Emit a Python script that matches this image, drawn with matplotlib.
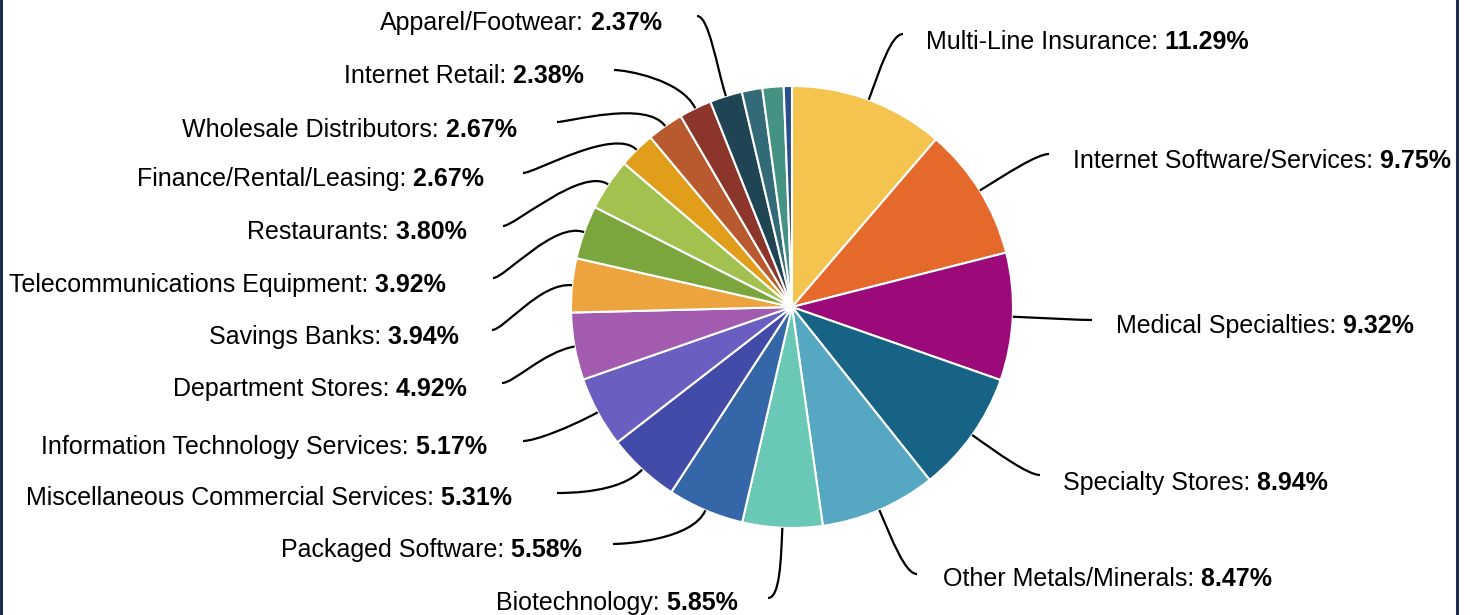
import numpy as np
import matplotlib.pyplot as plt
from matplotlib.path import Path
from matplotlib.patches import PathPatch

plt.rcParams['font.family'] = ['Liberation Sans', 'DejaVu Sans']

# データ（時計回り、上から）
labels = ['Multi-Line Insurance', 'Internet Software/Services', 'Medical Specialties',
          'Specialty Stores', 'Other Metals/Minerals', 'Biotechnology',
          'Packaged Software', 'Miscellaneous Commercial Services',
          'Information Technology Services', 'Department Stores', 'Savings Banks',
          'Telecommunications Equipment', 'Restaurants', 'Finance/Rental/Leasing',
          'Wholesale Distributors', 'Internet Retail', 'Apparel/Footwear',
          None, None, None]
values = [11.29, 9.75, 9.32, 8.94, 8.47, 5.85, 5.58, 5.31, 5.17, 4.92,
          3.94, 3.92, 3.80, 2.67, 2.67, 2.38, 2.37, 1.50, 1.55, 0.60]
colors = ['#f4c44e', '#e5692b', '#9b0a78', '#176385', '#56a8c2', '#6ac8b6',
          '#3566a8', '#434ba8', '#6a5ec0', '#a35bb0', '#eda43e', '#7ba63e',
          '#a3c14e', '#e09e1b', '#b95a2e', '#8c352b', '#1f4555', '#336a78',
          '#439283', '#2b4f8c']

# レイアウト（ピクセル座標、上が0）
W, H = 1470, 615
cx, cy, R = 792, 307, 221
side = ['R', 'R', 'R', 'R', 'R'] + ['L'] * 12
label_pos = [(926, 41), (1073, 160), (1116, 325), (1063, 482), (943, 578),
             (738, 602), (582, 549), (512, 497), (487, 446), (467, 388),
             (459, 336), (446, 284), (467, 231), (484, 178), (517, 129),
             (584, 75), (662, 22)]
line_end = [(903, 34), (1049, 154), (1092, 320), (1040, 475), (917, 574),
            (768, 598), (613, 544), (557, 493), (523, 441), (502, 383),
            (492, 330), (493, 278), (503, 226), (523, 173), (557, 122),
            (614, 70), (697, 16)]

fig = plt.figure(figsize=(14.7, 6.15), dpi=100)
ax = fig.add_axes([0, 0, 1, 1])

wedges, _ = ax.pie(values, colors=colors, startangle=90, counterclock=False,
                   center=(cx, H - cy), radius=R,
                   wedgeprops=dict(edgecolor='white', linewidth=1.5))
ax.set_xlim(0, W)
ax.set_ylim(0, H)
ax.set_aspect('auto')
ax.axis('off')

renderer = fig.canvas.get_renderer()
fs = 18
for i, name in enumerate(labels):
    if name is None:
        continue
    # 引き出し線（扇形の中央から）
    w = wedges[i]
    mid = np.deg2rad((w.theta1 + w.theta2) / 2)
    d = np.array([np.cos(mid), np.sin(mid)])
    c = np.array([cx, H - cy])
    p0 = c + R * d
    p1 = c + (R + 32) * d
    ex, ey = line_end[i]
    p3 = np.array([ex, H - ey])
    b = -12 if side[i] == 'R' else 12
    p2 = p3 + np.array([b, 0])
    path = Path([p0, p1, p2, p3], [Path.MOVETO, Path.CURVE4, Path.CURVE4, Path.CURVE4])
    ax.add_patch(PathPatch(path, fill=False, lw=1.6, edgecolor='black'))

    # ラベル（名前は通常、数値は太字）
    tx, ty = label_pos[i]
    ty = H - (ty + 8)
    val = ' %.2f%%' % values[i]
    if side[i] == 'R':
        t1 = ax.text(tx, ty, name + ':', ha='left', va='baseline', fontsize=fs)
        wpx = t1.get_window_extent(renderer).width
        ax.text(tx + wpx, ty, val, ha='left', va='baseline', fontsize=fs,
                fontweight='bold')
    else:
        t2 = ax.text(tx, ty, val, ha='right', va='baseline', fontsize=fs,
                     fontweight='bold')
        wpx = t2.get_window_extent(renderer).width
        ax.text(tx - wpx, ty, name + ':', ha='right', va='baseline', fontsize=fs)

# 枠線
ax.axvline(1.5, color='#1c2d4f', lw=2.2)
ax.axvline(1457.5, color='#1c2d4f', lw=2.2)

plt.savefig('out.png', dpi=100)
